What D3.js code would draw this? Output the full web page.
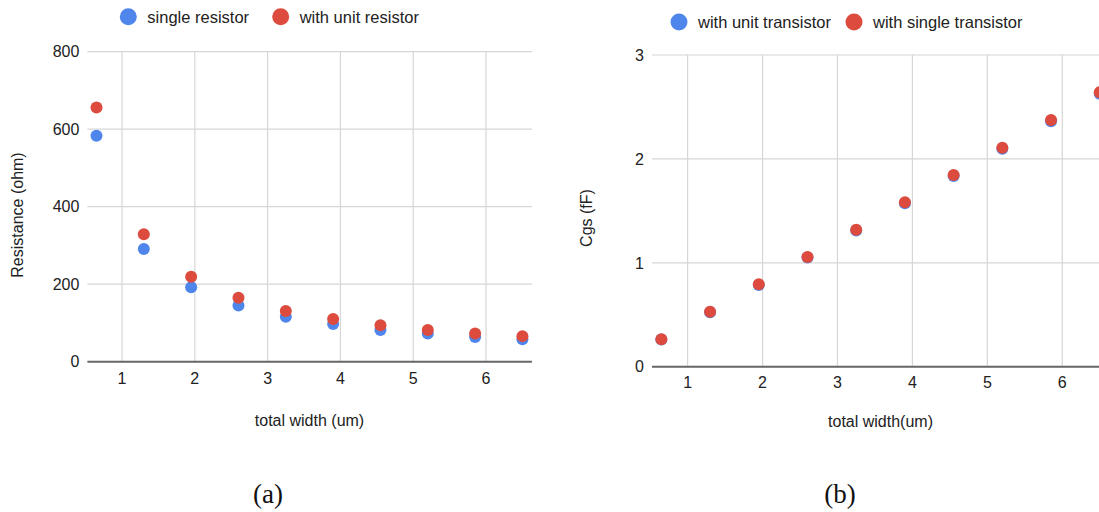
<!DOCTYPE html>
<html>
<head>
<meta charset="utf-8">
<script src="https://cdn.jsdelivr.net/npm/d3@7"></script>
<style>
  body { margin: 0; background: white; }
  svg { display: block; font-family: "Liberation Sans", Arial, sans-serif; }
</style>
</head>
<body>
<div id="chart"></div>
<script>
// total width (um), shared by both panels
const widths = [0.65, 1.3, 1.95, 2.6, 3.25, 3.9, 4.55, 5.2, 5.85, 6.5]

// (a) resistance (ohm)
const resSingle = [583, 291, 192, 145, 116, 97, 82, 73, 64, 58]
const resUnit = [656, 329, 219, 165, 131, 110, 94, 82, 73, 66]
const resTicks = [0, 200, 400, 600, 800]

// (b) Cgs (fF)
const cgsUnit = [0.262, 0.525, 0.787, 1.050, 1.312, 1.574, 1.836, 2.098, 2.362, 2.628]
const cgsSingle = [0.264, 0.529, 0.793, 1.056, 1.319, 1.582, 1.845, 2.108, 2.374, 2.641]
const cgsTicks = [0, 1, 2, 3]

const xTicks = [1, 2, 3, 4, 5, 6]

const blue = "#4f86ec"
const red = "#dc4b3e"

const svg = d3.select("#chart").append("svg")
    .attr("width", 1099)
    .attr("height", 512)

function panel(opt) {
  const g = svg.append("g")

  const x = d3.scaleLinear().domain([0.525, 6.63]).range(opt.xRange)
  const y = d3.scaleLinear().domain(opt.yDomain).range(opt.yRange)

  const [x0, x1] = opt.xRange
  const [yb, yt] = opt.yRange

  // horizontal grid
  g.selectAll(".hgrid")
    .data(opt.yTicks.filter(d => d !== 0))
    .join("line")
      .attr("x1", x0).attr("x2", x1)
      .attr("y1", d => y(d)).attr("y2", d => y(d))
      .attr("stroke", "#d6d6d6")
      .attr("stroke-width", 1.2)

  // vertical grid
  g.selectAll(".vgrid")
    .data(xTicks)
    .join("line")
      .attr("x1", d => x(d)).attr("x2", d => x(d))
      .attr("y1", yt).attr("y2", yb)
      .attr("stroke", "#d6d6d6")
      .attr("stroke-width", 1.2)

  // baseline
  g.append("line")
      .attr("x1", x0).attr("x2", x1)
      .attr("y1", y(0)).attr("y2", y(0))
      .attr("stroke", "#666")
      .attr("stroke-width", 2)

  // y tick labels
  g.selectAll(".ylab")
    .data(opt.yTicks)
    .join("text")
      .attr("x", x0 - 8)
      .attr("y", d => y(d))
      .attr("dy", "0.36em")
      .attr("text-anchor", "end")
      .attr("font-size", 16)
      .attr("fill", "#222")
      .text(d => d)

  // x tick labels
  g.selectAll(".xlab")
    .data(xTicks)
    .join("text")
      .attr("x", d => x(d))
      .attr("y", y(0) + opt.xLabOff)
      .attr("dy", "0.36em")
      .attr("text-anchor", "middle")
      .attr("font-size", 16)
      .attr("fill", "#222")
      .text(d => d)

  // axis titles
  g.append("text")
      .attr("x", opt.xTitle[0])
      .attr("y", opt.xTitle[1])
      .attr("dy", "0.36em")
      .attr("text-anchor", "middle")
      .attr("font-size", 16)
      .attr("fill", "#222")
      .text(opt.xLabel)

  g.append("text")
      .attr("transform", `translate(${opt.yTitle[0]},${opt.yTitle[1]}) rotate(-90)`)
      .attr("dy", "0.36em")
      .attr("text-anchor", "middle")
      .attr("font-size", 16)
      .attr("fill", "#222")
      .text(opt.yLabel)

  // points: first series underneath, second on top
  opt.series.forEach(s => {
    g.append("g").selectAll("circle")
      .data(widths.map((w, i) => ({w: w, v: s.values[i]})))
      .join("circle")
        .attr("cx", d => x(d.w))
        .attr("cy", d => y(d.v))
        .attr("r", 6)
        .attr("fill", s.color)
  })

  // legend
  opt.series.forEach((s, i) => {
    const lx = opt.legend[i]
    g.append("circle")
        .attr("cx", lx)
        .attr("cy", opt.legendY)
        .attr("r", 8.5)
        .attr("fill", s.color)
    g.append("text")
        .attr("x", lx + 19)
        .attr("y", opt.legendY)
        .attr("dy", "0.36em")
        .attr("font-size", 16.5)
        .attr("fill", "#222")
        .text(s.name)
  })

  // caption
  svg.append("text")
      .attr("x", opt.caption[0])
      .attr("y", opt.caption[1])
      .attr("dy", "0.36em")
      .attr("text-anchor", "middle")
      .attr("font-family", "'Liberation Serif', 'DejaVu Serif', serif")
      .attr("font-size", 27)
      .attr("fill", "#111")
      .text(opt.captionText)
}

panel({
  xRange: [87.4, 531.9],
  yDomain: [0, 800],
  yRange: [361.7, 51.7],
  yTicks: resTicks,
  xLabOff: 16.6,
  xTitle: [309.5, 420],
  yTitle: [17.5, 215],
  xLabel: "total width (um)",
  yLabel: "Resistance (ohm)",
  series: [
    {name: "single resistor", values: resSingle, color: blue},
    {name: "with unit resistor", values: resUnit, color: red}
  ],
  legend: [128.3, 280.7],
  legendY: 16.7,
  caption: [268, 493],
  captionText: "(a)"
})

panel({
  xRange: [652, 1109.5],
  yDomain: [0, 3],
  yRange: [366.7, 55],
  yTicks: cgsTicks,
  xLabOff: 15.8,
  xTitle: [880.5, 421],
  yTitle: [586.7, 218],
  xLabel: "total width(um)",
  yLabel: "Cgs (fF)",
  series: [
    {name: "with unit transistor", values: cgsUnit, color: blue},
    {name: "with single transistor", values: cgsSingle, color: red}
  ],
  legend: [679, 854],
  legendY: 22,
  caption: [840, 493],
  captionText: "(b)"
})
</script>
</body>
</html>
